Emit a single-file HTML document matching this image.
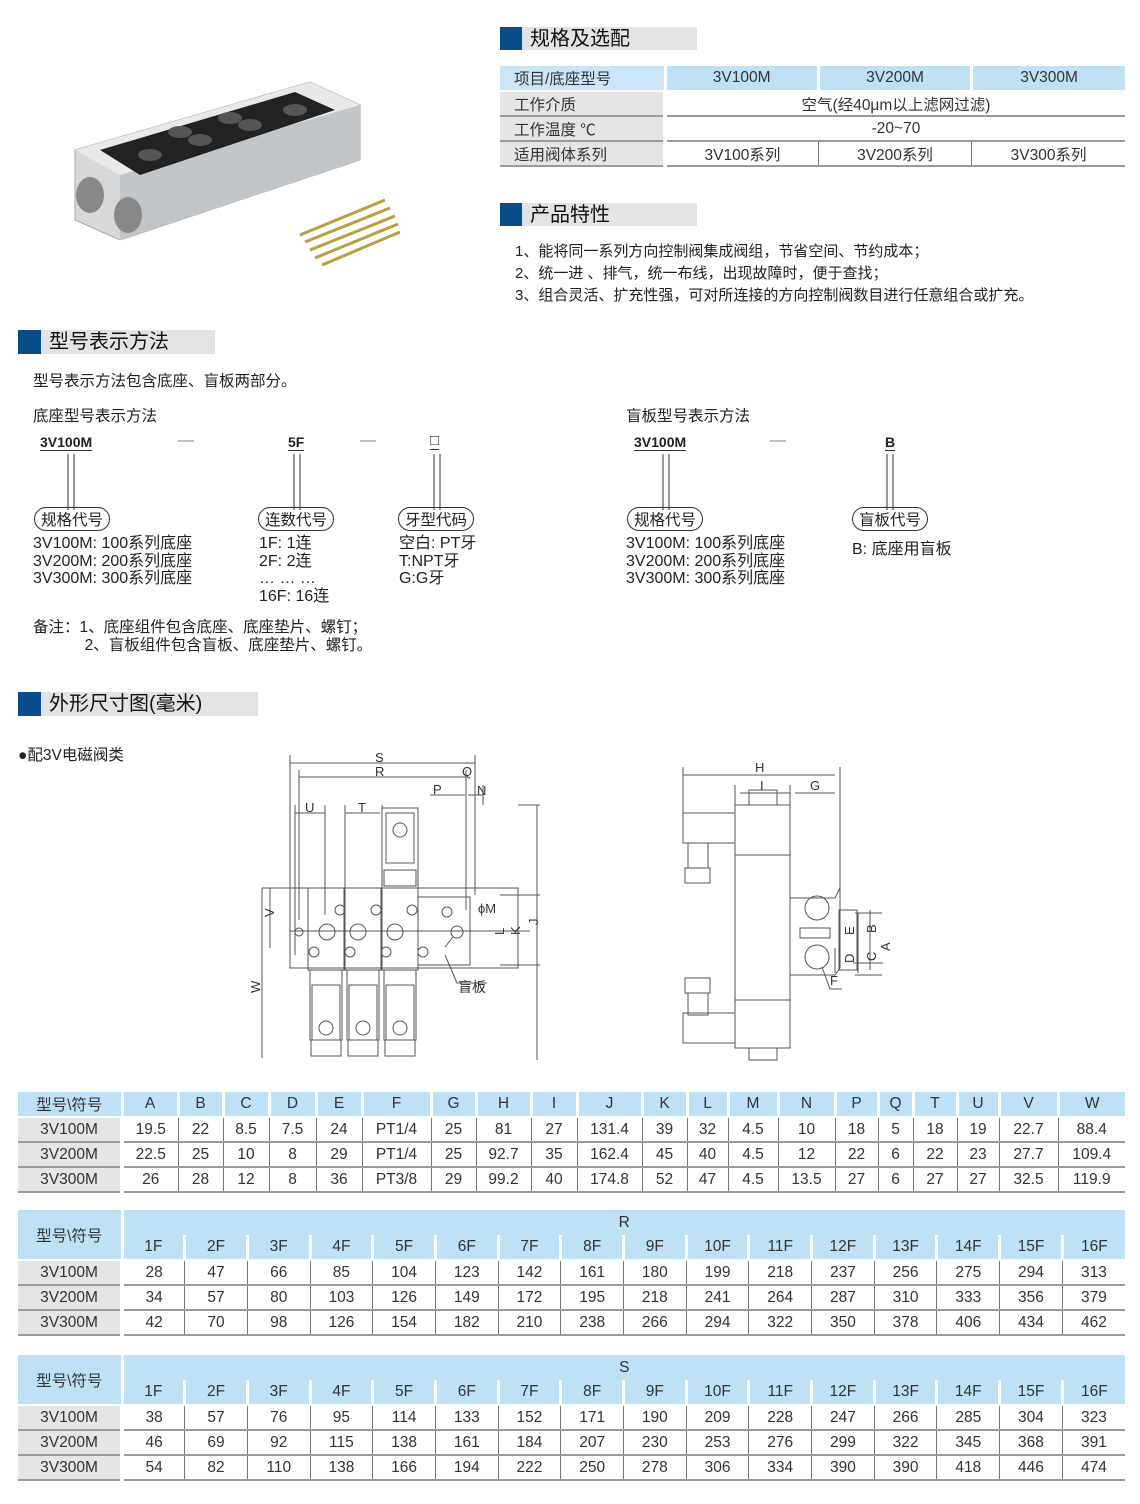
<!DOCTYPE html>
<html><head><meta charset="utf-8">
<style>
*{margin:0;padding:0;box-sizing:border-box}
body{width:1140px;height:1504px;background:#fff;position:relative;font-family:"Liberation Sans","Noto Sans CJK SC",sans-serif;color:#222;overflow:hidden}
.a{position:absolute;white-space:nowrap}
.sq{position:absolute;background:#0b4d8a}
.bar{position:absolute;background:#e3e3e3;font-size:20px;padding-left:8px;line-height:24px;color:#111}
.t14{font-size:15px}
.t15{font-size:15.5px}
table{position:absolute;border-collapse:collapse;table-layout:fixed;font-size:15.5px;color:#333}
td{text-align:center;padding:0;height:25px;border-bottom:2px solid #9a9a9a}
td.h{background:#bfe1f6;border-left:3px solid #fff;border-bottom:2px solid #fff}
td.l{background:#e5e5e5;border-right:4px solid #fff}
td.d{border-left:1px solid #777}
td.d:first-of-type{border-left:none}
</style></head><body>

<!-- product photo -->
<svg class="a" style="left:60px;top:80px" width="340" height="200">
<polygon points="15,70 250,2 300,25 300,80 60,160 15,140" fill="#d6d8da" stroke="#aaa"/>
<polygon points="15,70 250,2 300,25 60,95" fill="#e8e9ea"/>
<polygon points="60,95 300,25 300,80 60,160" fill="#c3c6c8"/>
<polygon points="40,70 235,12 275,30 80,95" fill="#222"/>
<g fill="#555"><ellipse cx="90" cy="75" rx="12" ry="6"/><ellipse cx="140" cy="60" rx="12" ry="6"/><ellipse cx="190" cy="45" rx="12" ry="6"/><ellipse cx="235" cy="30" rx="12" ry="6"/><ellipse cx="120" cy="52" rx="12" ry="6"/><ellipse cx="170" cy="38" rx="12" ry="6"/></g>
<ellipse cx="30" cy="115" rx="14" ry="18" fill="#888"/><ellipse cx="68" cy="135" rx="14" ry="18" fill="#888"/>
<g stroke="#b8a040" stroke-width="3"><line x1="240" y1="155" x2="325" y2="120"/><line x1="245" y1="162" x2="330" y2="128"/><line x1="250" y1="170" x2="335" y2="136"/><line x1="255" y1="178" x2="338" y2="144"/><line x1="262" y1="185" x2="340" y2="152"/></g>
</svg>

<!-- section 1 -->
<div class="sq" style="left:500px;top:27px;width:22px;height:23px"></div>
<div class="bar" style="left:522px;top:27px;width:175px;height:23px">规格及选配</div>
<table style="left:500px;top:66px;width:625px">
<col style="width:165px"><col><col><col>
<tr><td class="h" style="border-left:none;background:#c9e5f6;text-align:left;padding-left:14px">项目/底座型号</td><td class="h">3V100M</td><td class="h">3V200M</td><td class="h">3V300M</td></tr>
<tr><td class="l" style="text-align:left;padding-left:14px">工作介质</td><td colspan="3">空气(经40μm以上滤网过滤)</td></tr>
<tr><td class="l" style="text-align:left;padding-left:14px">工作温度 ℃</td><td colspan="3">-20~70</td></tr>
<tr><td class="l" style="text-align:left;padding-left:14px">适用阀体系列</td><td>3V100系列</td><td class="d" style="border-left:1px solid #777">3V200系列</td><td style="border-left:1px solid #777">3V300系列</td></tr>
</table>

<div class="sq" style="left:500px;top:203px;width:22px;height:23px"></div>
<div class="bar" style="left:522px;top:203px;width:175px;height:23px">产品特性</div>
<div class="a" style="left:515px;top:241px;line-height:22px;font-size:15px">1、能将同一系列方向控制阀集成阀组，节省空间、节约成本；<br>2、统一进 、排气，统一布线，出现故障时，便于查找；<br>3、组合灵活、扩充性强，可对所连接的方向控制阀数目进行任意组合或扩充。</div>

<!-- section 2 -->
<div class="sq" style="left:18px;top:330px;width:23px;height:24px"></div>
<div class="bar" style="left:41px;top:330px;width:174px;height:24px">型号表示方法</div>
<div class="a t15" style="left:33px;top:369px">型号表示方法包含底座、盲板两部分。</div>
<div class="a t15" style="left:33px;top:404px">底座型号表示方法</div>
<div class="a t15" style="left:626px;top:404px">盲板型号表示方法</div>

<div class="a" style="left:40px;top:434px;font-size:14px;font-weight:bold;border-bottom:1px solid #333">3V100M</div>
<div class="a" style="left:178px;top:432px;color:#888">—</div>
<div class="a" style="left:288px;top:434px;font-size:14px;font-weight:bold;border-bottom:1px solid #333">5F</div>
<div class="a" style="left:360px;top:432px;color:#888">—</div>
<div class="a" style="left:430px;top:432px;font-size:15px;border-bottom:1px solid #333">□</div>
<div class="a" style="left:634px;top:434px;font-size:14px;font-weight:bold;border-bottom:1px solid #333">3V100M</div>
<div class="a" style="left:770px;top:432px;color:#888">—</div>
<div class="a" style="left:885px;top:434px;font-size:14px;font-weight:bold;border-bottom:1px solid #333">B</div>
<svg class="a" style="left:0;top:450px" width="1140" height="60">
<g stroke="#333" fill="none"><path d="M68 4v56M74 4v56M294 4v56M300 4v56M434 4v56M440 4v56M663 4v56M669 4v56M887 4v56M893 4v56"/></g></svg>
<div class="a t15" style="left:34px;top:507px;border:1px solid #333;border-radius:12px;padding:0 6px">规格代号</div>
<div class="a t15" style="left:258px;top:507px;border:1px solid #333;border-radius:12px;padding:0 6px">连数代号</div>
<div class="a t15" style="left:398px;top:507px;border:1px solid #333;border-radius:12px;padding:0 6px">牙型代码</div>
<div class="a t15" style="left:627px;top:507px;border:1px solid #333;border-radius:12px;padding:0 6px">规格代号</div>
<div class="a t15" style="left:852px;top:507px;border:1px solid #333;border-radius:12px;padding:0 6px">盲板代号</div>
<div class="a" style="left:33px;top:535px;line-height:17.5px;font-size:16px">3V100M: 100系列底座<br>3V200M: 200系列底座<br>3V300M: 300系列底座</div>
<div class="a" style="left:259px;top:535px;line-height:17.5px;font-size:16px">1F: 1连<br>2F: 2连<br>… … …<br>16F: 16连</div>
<div class="a" style="left:399px;top:535px;line-height:17.5px;font-size:16px">空白: PT牙<br>T:NPT牙<br>G:G牙</div>
<div class="a" style="left:626px;top:535px;line-height:17.5px;font-size:16px">3V100M: 100系列底座<br>3V200M: 200系列底座<br>3V300M: 300系列底座</div>
<div class="a" style="left:852px;top:535px;font-size:16px">B: 底座用盲板</div>
<div class="a t15" style="left:33px;top:619px;line-height:18px">备注：1、底座组件包含底座、底座垫片、螺钉；<br>&nbsp;&nbsp;&nbsp;&nbsp;&nbsp;&nbsp;&nbsp;&nbsp;&nbsp;&nbsp;&nbsp;&nbsp;2、盲板组件包含盲板、底座垫片、螺钉。</div>

<!-- section 3 -->
<div class="sq" style="left:18px;top:692px;width:23px;height:24px"></div>
<div class="bar" style="left:41px;top:692px;width:217px;height:24px">外形尺寸图(毫米)</div>
<div class="a t15" style="left:18px;top:743px">●配3V电磁阀类</div>

<svg class="a" style="left:0;top:745px" width="1140" height="320" font-family="Liberation Sans" font-size="13" fill="#333">
<g stroke="#555" fill="none" stroke-width="1">
<path d="M290 18h185M299 32h167M430 50h35M468 50h15M295 68h30M345 68h35M290 10v150M299 25v150M466 25v140M475 10v140M483 40v20"/>
<path d="M295 60v150M325 60v110M345 60v110M382 60v110"/>
<path d="M262 143v170M537 60v255M262 143h28M518 60h22M500 150h40M500 220h40M270 143v60"/>
<rect x="290" y="143" width="228" height="80"/>
<rect x="418" y="152" width="52" height="68"/>
<path d="M290 186h240"/>
<rect x="308" y="143" width="36" height="82"/><rect x="345" y="143" width="36" height="82"/><rect x="382" y="143" width="36" height="82"/>
<rect x="382" y="63" width="36" height="80"/><rect x="386" y="68" width="28" height="50"/>
<rect x="310" y="225" width="32" height="70"/><rect x="347" y="225" width="32" height="70"/><rect x="384" y="225" width="32" height="70"/>
<rect x="312" y="240" width="28" height="55"/><rect x="349" y="240" width="28" height="55"/><rect x="386" y="240" width="28" height="55"/>
<rect x="311" y="295" width="30" height="16"/><rect x="348" y="295" width="30" height="16"/><rect x="385" y="295" width="30" height="16"/>
<rect x="384" y="125" width="32" height="16"/>
<circle cx="400" cy="85" r="7"/><circle cx="326" cy="283" r="7"/><circle cx="363" cy="283" r="7"/><circle cx="400" cy="283" r="7"/>
<circle cx="327" cy="187" r="8"/><circle cx="358" cy="187" r="8"/><circle cx="395" cy="187" r="8"/><circle cx="299" cy="187" r="4"/><circle cx="457" cy="187" r="6"/>
<circle cx="340" cy="165" r="5"/><circle cx="376" cy="165" r="5"/><circle cx="412" cy="165" r="5"/><circle cx="447" cy="167" r="5"/>
<circle cx="314" cy="207" r="5"/><circle cx="350" cy="207" r="5"/><circle cx="386" cy="207" r="5"/><circle cx="423" cy="207" r="5"/>
<path d="M453 192l-8 10M445 210l12 28h30"/>
<path d="M683 30h152M740 48h50M795 48h40M683 22v60M735 40v30M790 40v260M840 22v190M835 228v-25M855 168h27M855 230h27M853 218h30"/>
<rect x="735" y="60" width="55" height="50"/><rect x="735" y="110" width="55" height="145"/><rect x="735" y="255" width="55" height="48"/>
<rect x="683" y="68" width="52" height="30"/><rect x="688" y="98" width="20" height="25"/><rect x="685" y="123" width="25" height="15"/>
<rect x="683" y="268" width="52" height="30"/><rect x="688" y="248" width="20" height="22"/><rect x="685" y="233" width="25" height="15"/>
<rect x="749" y="45" width="28" height="15"/><rect x="749" y="303" width="28" height="12"/>
<path d="M790 153h45l5 -10v80l-5 7h-45z"/>
<circle cx="817" cy="163" r="12"/><circle cx="817" cy="212" r="12"/>
<rect x="800" y="183" width="30" height="10"/><rect x="839" y="165" width="18" height="60"/>
<path d="M870 165v60M858 168v60M822 222l8 22h12"/>
</g>
<text x="375" y="17">S</text><text x="375" y="31">R</text><text x="462" y="31">Q</text><text x="433" y="49">P</text><text x="477" y="50">N</text>
<text x="305" y="67">U</text><text x="358" y="67">T</text><text x="478" y="168">ϕM</text><text x="266" y="172" transform="rotate(-90 270 168)">V</text>
<text x="496" y="190" transform="rotate(-90 500 186)">L</text><text x="512" y="190" transform="rotate(-90 516 186)">K</text><text x="530" y="180" transform="rotate(-90 534 176)">J</text>
<text x="252" y="248" transform="rotate(-90 256 244)">W</text><text x="458" y="247" font-size="14">盲板</text>
<text x="755" y="27">H</text><text x="760" y="45">I</text><text x="810" y="45">G</text>
<text x="846" y="190" transform="rotate(-90 850 186)">E</text><text x="868" y="188" transform="rotate(-90 872 184)">B</text>
<text x="846" y="218" transform="rotate(-90 850 214)">D</text><text x="868" y="216" transform="rotate(-90 872 212)">C</text><text x="882" y="206" transform="rotate(-90 886 202)">A</text>
<text x="830" y="240">F</text>
</svg>

<table style="left:18px;top:1092px;width:1107px">
<col style="width:104px"><col style="width:56px"><col style="width:45px"><col style="width:46px"><col style="width:47px"><col style="width:46px"><col style="width:69px"><col style="width:45px"><col style="width:55px"><col style="width:46px"><col style="width:65px"><col style="width:45px"><col style="width:41px"><col style="width:50px"><col style="width:57px"><col style="width:43px"><col style="width:35px"><col style="width:44px"><col style="width:42px"><col style="width:59px"><col>
<tr><td class="h" style="border-left:none">型号\符号</td><td class="h">A</td><td class="h">B</td><td class="h">C</td><td class="h">D</td><td class="h">E</td><td class="h">F</td><td class="h">G</td><td class="h">H</td><td class="h">I</td><td class="h">J</td><td class="h">K</td><td class="h">L</td><td class="h">M</td><td class="h">N</td><td class="h">P</td><td class="h">Q</td><td class="h">T</td><td class="h">U</td><td class="h">V</td><td class="h">W</td></tr>
<tr><td class="l">3V100M</td><td>19.5</td><td class="d">22</td><td class="d">8.5</td><td class="d">7.5</td><td class="d">24</td><td class="d">PT1/4</td><td class="d">25</td><td class="d">81</td><td class="d">27</td><td class="d">131.4</td><td class="d">39</td><td class="d">32</td><td class="d">4.5</td><td class="d">10</td><td class="d">18</td><td class="d">5</td><td class="d">18</td><td class="d">19</td><td class="d">22.7</td><td class="d">88.4</td></tr>
<tr><td class="l">3V200M</td><td>22.5</td><td class="d">25</td><td class="d">10</td><td class="d">8</td><td class="d">29</td><td class="d">PT1/4</td><td class="d">25</td><td class="d">92.7</td><td class="d">35</td><td class="d">162.4</td><td class="d">45</td><td class="d">40</td><td class="d">4.5</td><td class="d">12</td><td class="d">22</td><td class="d">6</td><td class="d">22</td><td class="d">23</td><td class="d">27.7</td><td class="d">109.4</td></tr>
<tr><td class="l">3V300M</td><td>26</td><td class="d">28</td><td class="d">12</td><td class="d">8</td><td class="d">36</td><td class="d">PT3/8</td><td class="d">29</td><td class="d">99.2</td><td class="d">40</td><td class="d">174.8</td><td class="d">52</td><td class="d">47</td><td class="d">4.5</td><td class="d">13.5</td><td class="d">27</td><td class="d">6</td><td class="d">27</td><td class="d">27</td><td class="d">32.5</td><td class="d">119.9</td></tr>
</table>

<table style="left:18px;top:1210px;width:1107px">
<col style="width:104px"><col span="16">
<tr><td class="h" rowspan="2" style="border-left:none">型号\符号</td><td class="h" colspan="16" style="border-bottom:none">R</td></tr>
<tr><td class="h">1F</td><td class="h">2F</td><td class="h">3F</td><td class="h">4F</td><td class="h">5F</td><td class="h">6F</td><td class="h">7F</td><td class="h">8F</td><td class="h">9F</td><td class="h">10F</td><td class="h">11F</td><td class="h">12F</td><td class="h">13F</td><td class="h">14F</td><td class="h">15F</td><td class="h">16F</td></tr>
<tr><td class="l">3V100M</td><td>28</td><td class="d">47</td><td class="d">66</td><td class="d">85</td><td class="d">104</td><td class="d">123</td><td class="d">142</td><td class="d">161</td><td class="d">180</td><td class="d">199</td><td class="d">218</td><td class="d">237</td><td class="d">256</td><td class="d">275</td><td class="d">294</td><td class="d">313</td></tr>
<tr><td class="l">3V200M</td><td>34</td><td class="d">57</td><td class="d">80</td><td class="d">103</td><td class="d">126</td><td class="d">149</td><td class="d">172</td><td class="d">195</td><td class="d">218</td><td class="d">241</td><td class="d">264</td><td class="d">287</td><td class="d">310</td><td class="d">333</td><td class="d">356</td><td class="d">379</td></tr>
<tr><td class="l">3V300M</td><td>42</td><td class="d">70</td><td class="d">98</td><td class="d">126</td><td class="d">154</td><td class="d">182</td><td class="d">210</td><td class="d">238</td><td class="d">266</td><td class="d">294</td><td class="d">322</td><td class="d">350</td><td class="d">378</td><td class="d">406</td><td class="d">434</td><td class="d">462</td></tr>
</table>

<table style="left:18px;top:1355px;width:1107px">
<col style="width:104px"><col span="16">
<tr><td class="h" rowspan="2" style="border-left:none">型号\符号</td><td class="h" colspan="16" style="border-bottom:none">S</td></tr>
<tr><td class="h">1F</td><td class="h">2F</td><td class="h">3F</td><td class="h">4F</td><td class="h">5F</td><td class="h">6F</td><td class="h">7F</td><td class="h">8F</td><td class="h">9F</td><td class="h">10F</td><td class="h">11F</td><td class="h">12F</td><td class="h">13F</td><td class="h">14F</td><td class="h">15F</td><td class="h">16F</td></tr>
<tr><td class="l">3V100M</td><td>38</td><td class="d">57</td><td class="d">76</td><td class="d">95</td><td class="d">114</td><td class="d">133</td><td class="d">152</td><td class="d">171</td><td class="d">190</td><td class="d">209</td><td class="d">228</td><td class="d">247</td><td class="d">266</td><td class="d">285</td><td class="d">304</td><td class="d">323</td></tr>
<tr><td class="l">3V200M</td><td>46</td><td class="d">69</td><td class="d">92</td><td class="d">115</td><td class="d">138</td><td class="d">161</td><td class="d">184</td><td class="d">207</td><td class="d">230</td><td class="d">253</td><td class="d">276</td><td class="d">299</td><td class="d">322</td><td class="d">345</td><td class="d">368</td><td class="d">391</td></tr>
<tr><td class="l">3V300M</td><td>54</td><td class="d">82</td><td class="d">110</td><td class="d">138</td><td class="d">166</td><td class="d">194</td><td class="d">222</td><td class="d">250</td><td class="d">278</td><td class="d">306</td><td class="d">334</td><td class="d">390</td><td class="d">390</td><td class="d">418</td><td class="d">446</td><td class="d">474</td></tr>
</table>
</body></html>
